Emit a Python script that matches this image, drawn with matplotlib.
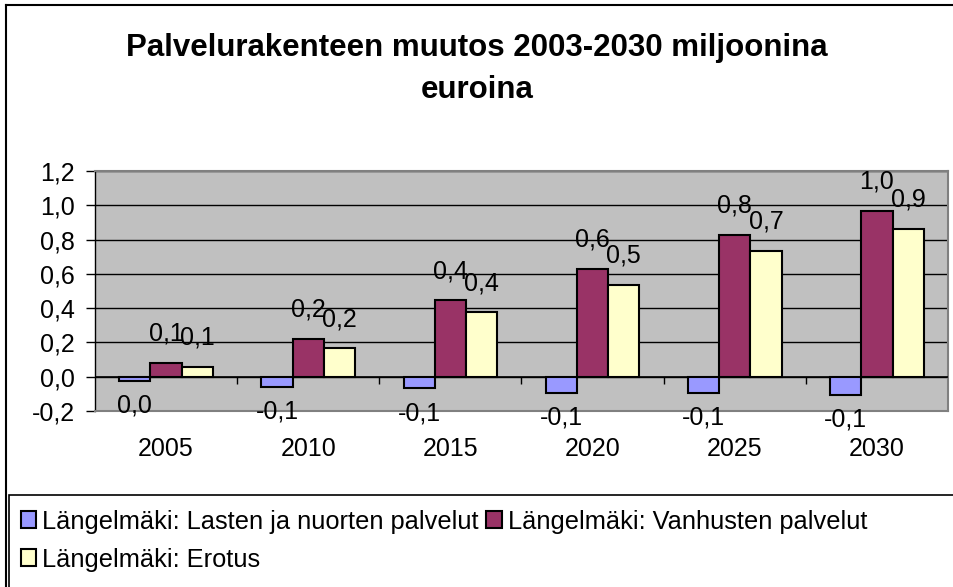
import numpy as np
import matplotlib.pyplot as plt
from matplotlib.patches import Rectangle
from matplotlib.lines import Line2D

plt.rcParams['font.family'] = ['Liberation Sans', 'DejaVu Sans']

years = ['2005', '2010', '2015', '2020', '2025', '2030']
lasten = [-0.023, -0.058, -0.068, -0.095, -0.093, -0.105]
vanhusten = [0.082, 0.222, 0.445, 0.63, 0.828, 0.968]
erotus = [0.058, 0.165, 0.375, 0.536, 0.736, 0.863]
lab_lasten = ['0,0', '-0,1', '-0,1', '-0,1', '-0,1', '-0,1']
lab_vanhusten = ['0,1', '0,2', '0,4', '0,6', '0,8', '1,0']
lab_erotus = ['0,1', '0,2', '0,4', '0,5', '0,7', '0,9']
names = ['Längelmäki: Lasten ja nuorten palvelut',
         'Längelmäki: Vanhusten palvelut',
         'Längelmäki: Erotus']
colors = ['#9999FF', '#993366', '#FFFFCC']

W, H = 954, 587
fig = plt.figure(figsize=(W / 100, H / 100), dpi=100)
ax = fig.add_axes([95 / W, 1 - 411 / H, (948 - 95) / W, (411 - 171) / H])
ax.set_facecolor('#C0C0C0')

x = np.arange(len(years))
bw = 0.22
series = [(lasten, lab_lasten), (vanhusten, lab_vanhusten), (erotus, lab_erotus)]
bars = []
for k, (vals, labs) in enumerate(series):
    b = ax.bar(x + (k - 1) * bw, vals, bw, color=colors[k], edgecolor='black',
               linewidth=1.5, zorder=3)
    bars.append(b)
    for xi, v, t in zip(x + (k - 1) * bw, vals, labs):
        off = 21 if v >= 0 else -18
        ax.annotate(t, (xi, v), xytext=(0, off), textcoords='offset points',
                    ha='center', va='center', fontsize=18, zorder=5)

ax.set_ylim(-0.2, 1.2)
ax.set_xlim(-0.5, len(years) - 0.5)
ax.set_yticks(np.arange(-0.2, 1.21, 0.2))
ax.set_yticklabels([f'{v:.1f}'.replace('.', ',') for v in np.arange(-0.2, 1.21, 0.2)])
ax.yaxis.grid(True, color='black', linewidth=1, zorder=1)
ax.set_axisbelow(True)
ax.axhline(0, color='black', linewidth=1.2, zorder=4)
ax.vlines(x[:-1] + 0.5, -0.04, 0, color='black', linewidth=1, zorder=4)
ax.set_xticks(x)
ax.set_xticklabels(years)
ax.tick_params(axis='x', length=0, pad=19, labelsize=18)
ax.tick_params(axis='y', length=6.5, width=1, pad=8, labelsize=18, direction='out')
for s in ax.spines.values():
    s.set_color('#808080')
    s.set_linewidth(1.5)
ax.spines['left'].set_color('black')
ax.spines['left'].set_linewidth(1)

fig.text(477 / W, 1 - 48 / H, 'Palvelurakenteen muutos 2003-2030 miljoonina',
         ha='center', va='center', fontsize=22.5, fontweight='bold')
fig.text(477 / W, 1 - 90 / H, 'euroina',
         ha='center', va='center', fontsize=22.5, fontweight='bold')

# chart border and legend box
fig.add_artist(Line2D([6.5 / W, 6.5 / W], [0, 1 - 5 / H], transform=fig.transFigure,
                      color='black', linewidth=1.5))
fig.add_artist(Line2D([6.5 / W, 1], [1 - 5 / H, 1 - 5 / H], transform=fig.transFigure,
                      color='black', linewidth=1.5))
fig.add_artist(Rectangle((9 / W, -0.01), 1, 1 - 495 / H + 0.01, transform=fig.transFigure,
                         facecolor='white', edgecolor='black', linewidth=1.2))

order = [0, 2, 1]
leg = fig.legend([bars[i] for i in order], [names[i] for i in order], ncol=2,
                 loc='upper left', bbox_to_anchor=(4 / W, 1 - 493 / H),
                 frameon=False, fontsize=18.3, handlelength=0.6, handleheight=0.6,
                 handletextpad=0.25, columnspacing=0.3, labelspacing=0.55,
                 borderpad=0.15)

fig.savefig('out.png', dpi=100)
